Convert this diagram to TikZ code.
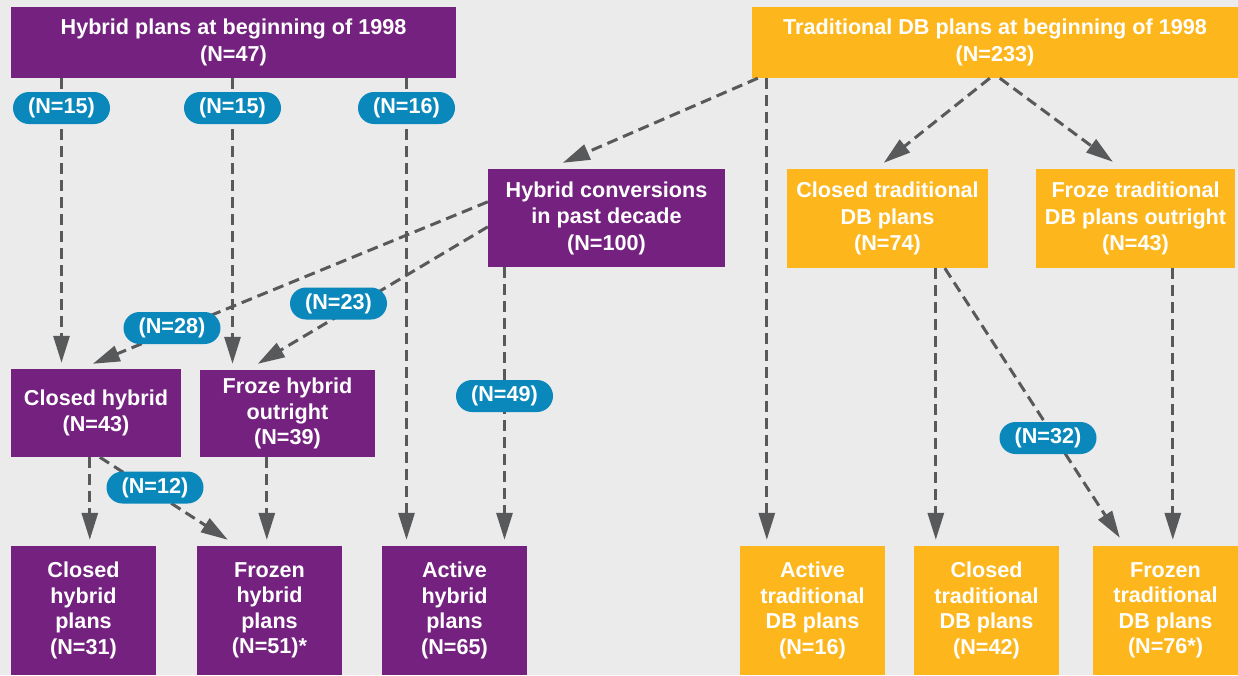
\documentclass[tikz,border=0pt]{standalone}
\usepackage{fontspec}
\setmainfont{Liberation Sans}
\usetikzlibrary{arrows.meta,calc}
\definecolor{bg}{HTML}{EBEBEB}
\definecolor{purp}{HTML}{74217F}
\definecolor{oran}{HTML}{FDB71D}
\definecolor{pillc}{HTML}{0A88BB}
\definecolor{arrc}{HTML}{58595B}
\pgfdeclarelayer{fg}
\pgfsetlayers{main,fg}
\begin{document}
\begin{tikzpicture}[x=1pt,y=-1pt,
  box/.style={inner sep=0pt, text=white, align=center, font=\bfseries\fontsize{21.6}{25.5}\selectfont},
  hbox/.style={box, fill=purp},
  tbox/.style={box, fill=oran},
  topfont/.style={font=\bfseries\fontsize{21.6}{27}\selectfont},
  midfont/.style={font=\bfseries\fontsize{21.6}{26.5}\selectfont},
  bot/.style={minimum width=145pt, minimum height=129pt},
  pillnode/.style={fill=pillc, text=white, rounded corners=16pt, minimum width=97pt, minimum height=32pt, inner sep=0pt, font=\bfseries\fontsize{21.6}{25}\selectfont},
  conn/.style={draw=arrc, line width=3pt, dash pattern=on 11pt off 6pt, -{Triangle[length=27pt,width=16pt,fill=arrc]}},
  tipgap/.style={shorten >=6pt}
]
\fill[bg] (0,0) rectangle (1238,675);
\useasboundingbox (0,0) rectangle (1238,675);

% boxes
\node[hbox, topfont, minimum width=445pt, minimum height=71pt] (htop) at (233.5,42.5) {Hybrid plans at beginning of 1998\\(N=47)};
\node[tbox, topfont, minimum width=486pt, minimum height=71pt] (ttop) at (995,42.5) {Traditional DB plans at beginning of 1998\\(N=233)};
\node[hbox, midfont, minimum width=237pt, minimum height=98pt] (hconv) at (606.5,218) {Hybrid conversions\\in past decade\\(N=100)};
\node[tbox, midfont, minimum width=201pt, minimum height=99pt] (ctrad) at (887.5,218.5) {Closed traditional\\DB plans\\(N=74)};
\node[tbox, midfont, minimum width=199pt, minimum height=99pt] (ftrad) at (1135.5,218.5) {Froze traditional\\DB plans outright\\(N=43)};
\node[hbox, minimum width=170pt, minimum height=88pt] (chyb) at (96,413) {Closed hybrid\\(N=43)};
\node[hbox, minimum width=175pt, minimum height=87pt] (fhyb) at (287.5,413.5) {Froze hybrid\\outright\\(N=39)};

\node[hbox, bot] (chp) at (83.5,610.5) {Closed\\hybrid\\plans\\(N=31)};
\node[hbox, bot] (fhp) at (269.5,610.5) {Frozen\\hybrid\\plans\\(N=51)*};
\node[hbox, bot] (ahp) at (454.5,610.5) {Active\\hybrid\\plans\\(N=65)};
\node[tbox, bot] (atp) at (812.5,610.5) {Active\\traditional\\DB plans\\(N=16)};
\node[tbox, bot] (ctp) at (986.5,610.5) {Closed\\traditional\\DB plans\\(N=42)};
\node[tbox, bot] (ftp) at (1165.5,610.5) {Frozen\\traditional\\DB plans\\(N=76*)};

% pills (foreground)
\begin{pgfonlayer}{fg}
\node[pillnode] (p1) at (61.5,108) {(N=15)};
\node[pillnode] (p2) at (232.5,108) {(N=15)};
\node[pillnode] (p3) at (406.5,108) {(N=16)};
\node[pillnode] (p28) at (172,328) {(N=28)};
\node[pillnode] (p23) at (338.5,303.5) {(N=23)};
\node[pillnode] (p12) at (155,487.5) {(N=12)};
\node[pillnode] (p49) at (504.5,396) {(N=49)};
\node[pillnode] (p32) at (1048,438) {(N=32)};
\end{pgfonlayer}

% connectors
\draw[conn, tipgap] (p1 |- htop.south) -- (p1 |- chyb.north);
\draw[conn, tipgap] (p2 |- htop.south) -- (p2 |- fhyb.north);
\draw[conn, tipgap] (p3 |- htop.south) -- (p3 |- ahp.north);
\draw[conn] ($(hconv.north west)+(0,33)$) -- ($(chyb.north west)+(82,-5)$);
\draw[conn] ($(hconv.north west)+(0,58)$) -- ($(fhyb.north west)+(58,-6)$);
\draw[conn, tipgap] (p49 |- hconv.south) -- (p49 |- ahp.north);
\draw[conn] ($(chyb.south west)+(79,0)$) -- ($(chp.north west)+(79,-6)$);
\draw[conn] ($(chyb.south west)+(89,0)$) -- ($(fhp.north west)+(31,-6)$);
\draw[conn] ($(fhyb.south west)+(67,0)$) -- ($(fhp.north west)+(70,-6)$);
\draw[conn] ($(ttop.south west)+(6,0)$) -- ($(hconv.north west)+(75,-6)$);
\draw[conn] ($(ttop.south west)+(15,0)$) -- ($(atp.north west)+(27,-6)$);
\draw[conn] ($(ttop.south west)+(238,0)$) -- ($(ctrad.north west)+(97,-6)$);
\draw[conn] ($(ttop.south west)+(248,0)$) -- ($(ftrad.north west)+(77,-7)$);
\draw[conn] ($(ctrad.south west)+(149,0)$) -- ($(ctp.north west)+(22,-6)$);
\draw[conn] ($(ctrad.south west)+(158,0)$) -- ($(ftp.north west)+(27,-8)$);
\draw[conn] ($(ftrad.south west)+(137,0)$) -- ($(ftp.north west)+(80,-6)$);
\end{tikzpicture}
\end{document}
